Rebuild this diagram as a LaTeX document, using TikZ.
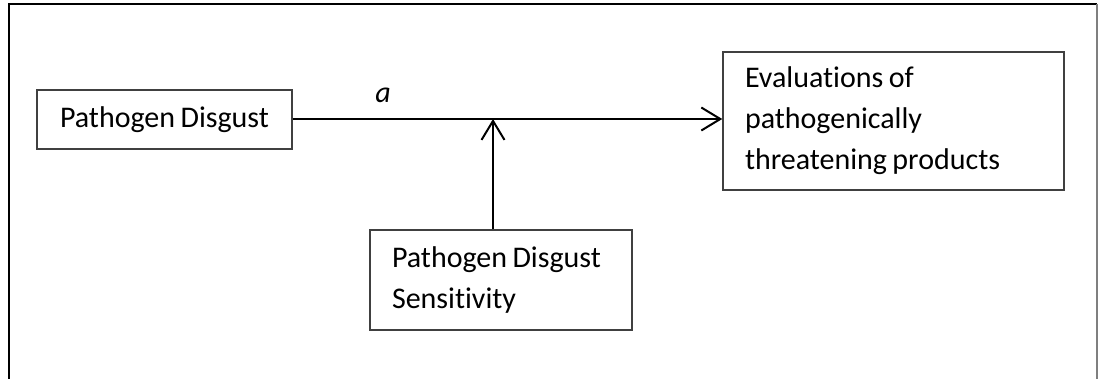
\documentclass[tikz,border=0pt]{standalone}
\usepackage{fontspec}
\setmainfont{Carlito}[Ligatures=NoCommon, WordSpace=0.8]
\usetikzlibrary{arrows.meta}
\definecolor{boxline}{HTML}{404040}
\definecolor{frameright}{HTML}{7F7F7F}
\newcommand{\myboxfont}{\fontsize{30}{41}\selectfont}
\newcommand{\myfixspace}{\spaceskip=\fontdimen2\font\relax}
\tikzset{
  box/.style={draw=boxline, line width=1.5pt, rectangle, font=\myboxfont, execute at begin node=\myfixspace},
  conn/.style={line width=2pt, -{Straight Barb[length=19pt,width=23pt,line width=2pt]}},
  lbl/.style={font=\fontsize{30}{34}\selectfont\itshape, inner sep=0pt}
}
\begin{document}
\begin{tikzpicture}[x=1pt,y=-1pt]
\useasboundingbox (0,0) rectangle (1098,378);
% outer frame
\draw[line width=2.2pt] (9,380) -- (9,4) -- (1097,4);
\draw[line width=2pt, frameright] (1097,4) -- (1097,380);
% nodes
\node[box, minimum width=255pt, minimum height=59pt, inner sep=0pt] (pd) at (164.5,119.5) {Pathogen Disgust};
\node[box, minimum width=341pt, minimum height=138pt, inner xsep=22pt, inner ysep=0pt, text width=297pt, align=left] (ev) at (893.5,121) {Evaluations of\\pathogenically\\threatening products};
\node[box, minimum width=262pt, minimum height=100pt, inner xsep=22pt, inner ysep=0pt, text width=218pt, align=left] (pds) at (501,280) {Pathogen Disgust\\Sensitivity};
\coordinate (m) at (493,119);
\node[lbl] (a) at (383,95) {a};
% connectors
\draw[conn] (pd.east |- m) -- (ev.west |- m);
\draw[conn] (pds.north -| m) -- (m);
\end{tikzpicture}
\end{document}
